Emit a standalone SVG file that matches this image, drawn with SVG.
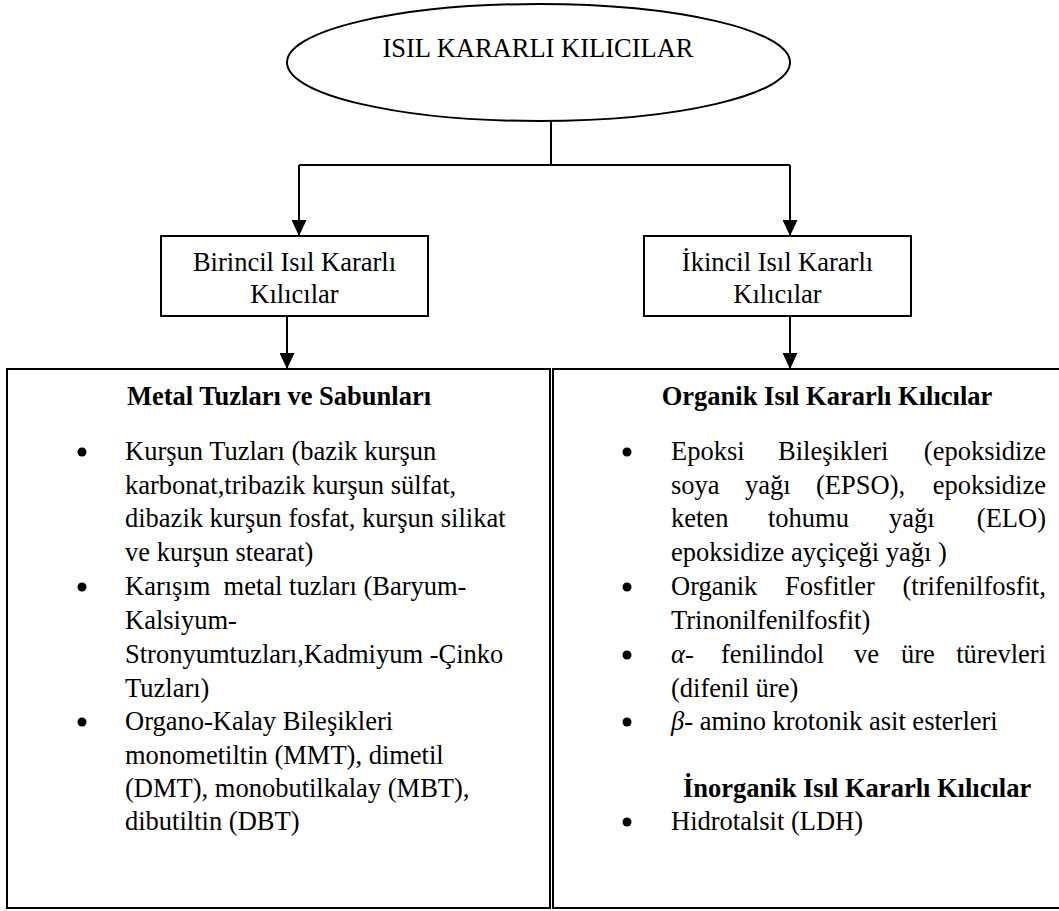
<svg xmlns="http://www.w3.org/2000/svg" width="1059" height="911" viewBox="0 0 1059 911">
<style>
text{font-family:"Liberation Serif","Times New Roman",serif;font-size:26.5px;fill:#000}
.b{font-weight:bold}
.m{text-anchor:middle}
.e{text-anchor:end}
.g{font-style:italic}
.shape{fill:#fff;stroke:#000;stroke-width:2}
.con{fill:none;stroke:#000;stroke-width:2}
.dot{fill:#000}
</style>
<defs>
<marker id="ah" markerUnits="userSpaceOnUse" markerWidth="16" markerHeight="15" refX="16" refY="7.5" orient="auto">
<path d="M0,0 L16,7.5 L0,15 z" fill="#000"/>
</marker>
</defs>
<rect width="1059" height="911" fill="#fff"/>
<g id="connectors">
<path class="con" d="M551,121 V165"/>
<path class="con" d="M299,165 H790"/>
<path class="con" d="M299,165 V236" marker-end="url(#ah)"/>
<path class="con" d="M790,165 V236" marker-end="url(#ah)"/>
<path class="con" d="M287,316 V369" marker-end="url(#ah)"/>
<path class="con" d="M790,316 V369" marker-end="url(#ah)"/>
</g>
<g id="root">
<ellipse class="shape" cx="538.5" cy="62.5" rx="251.5" ry="58.5"/>
<text class="m" x="538" y="57">ISIL KARARLI KILICILAR</text>
</g>
<g id="birincil">
<rect class="shape" x="161" y="236" width="267" height="80"/>
<text class="m" x="294.5" y="271">Birincil Isıl Kararlı</text>
<text class="m" x="294.5" y="303">Kılıcılar</text>
</g>
<g id="ikincil">
<rect class="shape" x="644" y="236" width="267" height="80"/>
<text class="m" x="777.5" y="271">İkincil Isıl Kararlı</text>
<text class="m" x="777.5" y="303">Kılıcılar</text>
</g>
<g id="metal">
<rect class="shape" x="7" y="369" width="543" height="539"/>
<text class="b m" x="279" y="405">Metal Tuzları ve Sabunları</text>
<circle class="dot" cx="82" cy="452" r="4.5"/>
<circle class="dot" cx="82" cy="587" r="4.5"/>
<circle class="dot" cx="82" cy="722" r="4.5"/>
<text x="125" y="460">Kurşun Tuzları (bazik kurşun</text>
<text x="125" y="494">karbonat,tribazik kurşun sülfat,</text>
<text x="125" y="527">dibazik kurşun fosfat, kurşun silikat</text>
<text x="125" y="561">ve kurşun stearat)</text>
<text x="125" y="595" xml:space="preserve">Karışım  metal tuzları (Baryum-</text>
<text x="125" y="629">Kalsiyum-</text>
<text x="125" y="663">Stronyumtuzları,Kadmiyum -Çinko</text>
<text x="125" y="697">Tuzları)</text>
<text x="125" y="730">Organo-Kalay Bileşikleri</text>
<text x="125" y="764">monometiltin (MMT), dimetil</text>
<text x="125" y="797">(DMT), monobutilkalay (MBT),</text>
<text x="125" y="830">dibutiltin (DBT)</text>
</g>
<g id="organik">
<rect class="shape" x="553" y="369" width="520" height="539"/>
<text class="b m" x="827" y="405">Organik Isıl Kararlı Kılıcılar</text>
<circle class="dot" cx="627" cy="452" r="4.5"/>
<circle class="dot" cx="627" cy="587" r="4.5"/>
<circle class="dot" cx="627" cy="655" r="4.5"/>
<circle class="dot" cx="627" cy="722" r="4.5"/>
<text x="671" y="460">Epoksi</text>
<text x="778" y="460">Bileşikleri</text>
<text class="e" x="1046" y="460">(epoksidize</text>
<text x="671" y="494">soya</text>
<text x="745" y="494">yağı</text>
<text x="816" y="494">(EPSO),</text>
<text class="e" x="1046" y="494">epoksidize</text>
<text x="671" y="527">keten</text>
<text x="768" y="527">tohumu</text>
<text x="889" y="527">yağı</text>
<text class="e" x="1046" y="527">(ELO)</text>
<text x="671" y="561">epoksidize ayçiçeği yağı )</text>
<text x="671" y="595">Organik</text>
<text x="785" y="595">Fosfitler</text>
<text class="e" x="1046" y="595">(trifenilfosfit,</text>
<text x="671" y="629">Trinonilfenilfosfit)</text>
<text x="671" y="663"><tspan class="g">α</tspan>-</text>
<text x="721" y="663">fenilindol</text>
<text x="854" y="663">ve</text>
<text x="901" y="663">üre</text>
<text class="e" x="1046" y="663">türevleri</text>
<text x="671" y="697">(difenil üre)</text>
<text x="671" y="730"><tspan class="g">β</tspan>- amino krotonik asit esterleri</text>
</g>
<g id="inorganik">
<text class="b" x="683" y="797">İnorganik Isıl Kararlı Kılıcılar</text>
<circle class="dot" cx="627" cy="822" r="4.5"/>
<text x="671" y="830">Hidrotalsit (LDH)</text>
</g>
</svg>
